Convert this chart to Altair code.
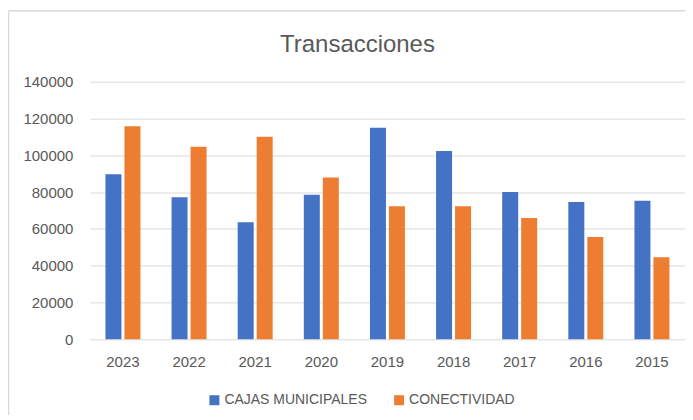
import altair as alt
import pandas as pd

years = ["2023", "2022", "2021", "2020", "2019", "2018", "2017", "2016", "2015"]
series = ["CAJAS MUNICIPALES", "CONECTIVIDAD"]
cajas = [89700, 77200, 63600, 78600, 115000, 102300, 80000, 74600, 75300]
conectividad = [115800, 104700, 110100, 88000, 72300, 72300, 65900, 55600, 44600]
y_ticks = [0, 20000, 40000, 60000, 80000, 100000, 120000, 140000]
colors = ["#4472C4", "#ED7D31"]

rows = []
for i, yr in enumerate(years):
    rows.append({"year": yr, "serie": series[0], "value": cajas[i]})
    rows.append({"year": yr, "serie": series[1], "value": conectividad[i]})
df = pd.DataFrame(rows)

FONT = "Liberation Sans"
TXT = "#595959"
GRID = "#d9d9d9"

bars = alt.Chart(df).mark_bar().encode(
    x=alt.X(
        "year:N",
        sort=years,
        scale=alt.Scale(paddingInner=0.471, paddingOuter=0.2355),
        axis=alt.Axis(
            title=None, labelAngle=0, labelPadding=15, ticks=False, domain=False,
            labelFontSize=15, labelColor=TXT, labelFont=FONT, grid=False,
        ),
    ),
    xOffset=alt.XOffset("serie:N", sort=series, scale=alt.Scale(paddingInner=0.158, paddingOuter=0)),
    y=alt.Y(
        "value:Q",
        scale=alt.Scale(domain=[0, 140000], nice=False),
        axis=alt.Axis(
            title=None, values=y_ticks, format="d", ticks=False, domain=False,
            labelPadding=17, labelFontSize=15, labelColor=TXT, labelFont=FONT,
            grid=True, gridColor=GRID, gridWidth=1,
        ),
    ),
    color=alt.Color(
        "serie:N",
        sort=series,
        scale=alt.Scale(domain=series, range=colors),
        legend=alt.Legend(
            title=None, orient="none", legendX=117.7, legendY=312, direction="horizontal",
            symbolType="square", symbolSize=100, symbolStrokeWidth=0, labelOffset=3,
            columnPadding=25, labelFontSize=14, labelColor=TXT, labelFont=FONT, padding=0,
        ),
    ),
)

frame_left = alt.Chart(alt.Data(values=[{}])).mark_rule(color=GRID, strokeWidth=1.5).encode(
    x=alt.value(-81.5), y=alt.value(-71), y2=alt.value(340)
)
frame_top = alt.Chart(alt.Data(values=[{}])).mark_rule(color=GRID, strokeWidth=1.5).encode(
    x=alt.value(-81.5), x2=alt.value(596), y=alt.value(-71)
)

chart = alt.layer(frame_left, frame_top, bars).properties(
    width=596,
    height=258,
    title=alt.TitleParams(
        "Transacciones", fontSize=24, font=FONT, color=TXT, fontWeight="normal",
        anchor="middle", dx=-30, offset=-47,
    ),
    autosize=alt.AutoSizeParams(type="none"),
    padding={"left": 82, "top": 73.5, "right": 0, "bottom": 75},
).configure_view(stroke=None)

chart.save("out.html", embed_options={"renderer": "svg", "actions": False})
